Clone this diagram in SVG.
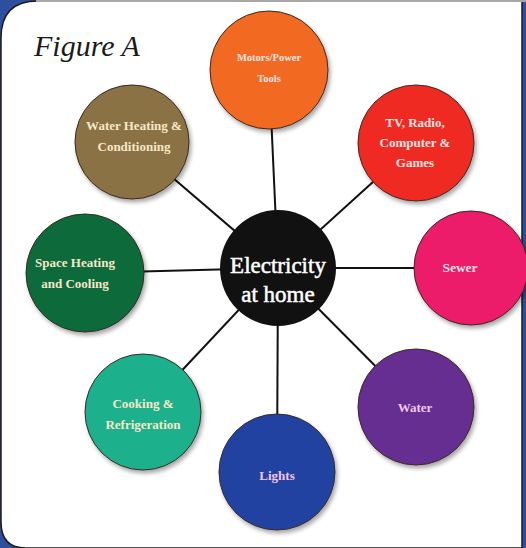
<svg xmlns="http://www.w3.org/2000/svg" width="526" height="548" viewBox="0 0 526 548">
  <defs>
    <filter id="shade" x="-20%" y="-20%" width="150%" height="150%">
      <feDropShadow dx="2" dy="3" stdDeviation="2" flood-color="#000" flood-opacity="0.35"/>
    </filter>
  </defs>
  <style>
    .link { stroke: #111; stroke-width: 2; fill: none; }
    .bubble { stroke: #3a2a20; stroke-width: 1; filter: url(#shade); }
    .lbl { font-family: "Liberation Serif", "DejaVu Serif", serif; text-anchor: middle; font-weight: bold; }
    .cream { fill: #f6e8c8; font-size: 13px; }
    .soft { fill: #fbe3e3; font-size: 10.5px; }
    .pinkish { fill: #f3c6e6; font-size: 13px; }
    .hub { font-family: "Liberation Serif", "DejaVu Serif", serif; text-anchor: middle; font-size: 23px; fill: #ffffff; stroke: #ffffff; stroke-width: 0.5; }
  </style>

  <!-- page frame -->
  <rect x="0" y="0" width="526" height="548" fill="#2f4f9e"/>
  <path d="M38 1 H522 V548 H26 Q1 548 1 522 V38 Q1 1 38 1 Z" fill="#ffffff" stroke="#1b1b1b" stroke-width="1.5"/>
  <line x1="36" y1="1" x2="526" y2="1" stroke="#a8a8a8" stroke-width="2"/>

  <text x="34" y="56" font-family="Liberation Serif, serif" font-style="italic" font-size="30" fill="#1a1a1a">Figure A</text>

  <!-- connectors -->
  <g id="connectors">
    <line class="link" x1="278" y1="268" x2="269" y2="70"/>
    <line class="link" x1="278" y1="268" x2="416" y2="143"/>
    <line class="link" x1="278" y1="268" x2="470" y2="268"/>
    <line class="link" x1="278" y1="268" x2="416" y2="407"/>
    <line class="link" x1="278" y1="268" x2="277" y2="472"/>
    <line class="link" x1="278" y1="268" x2="143" y2="412"/>
    <line class="link" x1="278" y1="268" x2="85" y2="273"/>
    <line class="link" x1="278" y1="268" x2="131" y2="142"/>
  </g>

  <g id="motors">
    <circle class="bubble" cx="269" cy="70" r="59" fill="#f26a22"/>
    <text class="lbl soft" x="269" y="61">Motors/Power</text>
    <text class="lbl soft" x="269" y="82">Tools</text>
  </g>

  <g id="tv">
    <circle class="bubble" cx="416" cy="143" r="58" fill="#ee2b24"/>
    <text class="lbl soft" style="font-size:13px" x="415" y="127">TV, Radio,</text>
    <text class="lbl soft" style="font-size:13px" x="415" y="147">Computer &amp;</text>
    <text class="lbl soft" style="font-size:13px" x="415" y="167">Games</text>
  </g>

  <g id="sewer">
    <circle class="bubble" cx="471" cy="268" r="57" fill="#ec1c6a"/>
    <text class="lbl soft" style="font-size:13.5px" x="460" y="272">Sewer</text>
  </g>

  <g id="water">
    <circle class="bubble" cx="416" cy="407" r="58" fill="#652d90"/>
    <text class="lbl pinkish" x="415" y="412">Water</text>
  </g>

  <g id="lights">
    <circle class="bubble" cx="277" cy="472" r="58" fill="#2343a1"/>
    <text class="lbl pinkish" x="277" y="480">Lights</text>
  </g>

  <g id="cooking">
    <circle class="bubble" cx="143" cy="412" r="58" fill="#1fb08c"/>
    <text class="lbl cream" x="143" y="408">Cooking &amp;</text>
    <text class="lbl cream" x="143" y="429">Refrigeration</text>
  </g>

  <g id="space-heating">
    <circle class="bubble" cx="85" cy="273" r="59" fill="#0a6b3a"/>
    <text class="lbl cream" x="75" y="267">Space Heating</text>
    <text class="lbl cream" x="75" y="288">and Cooling</text>
  </g>

  <g id="water-heating">
    <circle class="bubble" cx="132" cy="142" r="57" fill="#8b7245"/>
    <text class="lbl cream" x="134" y="130">Water Heating &amp;</text>
    <text class="lbl cream" x="134" y="151">Conditioning</text>
  </g>

  <g id="hub">
    <circle cx="278" cy="268" r="58" fill="#111111"/>
    <text class="hub" x="278" y="273">Electricity</text>
    <text class="hub" x="278" y="302">at home</text>
  </g>
</svg>
